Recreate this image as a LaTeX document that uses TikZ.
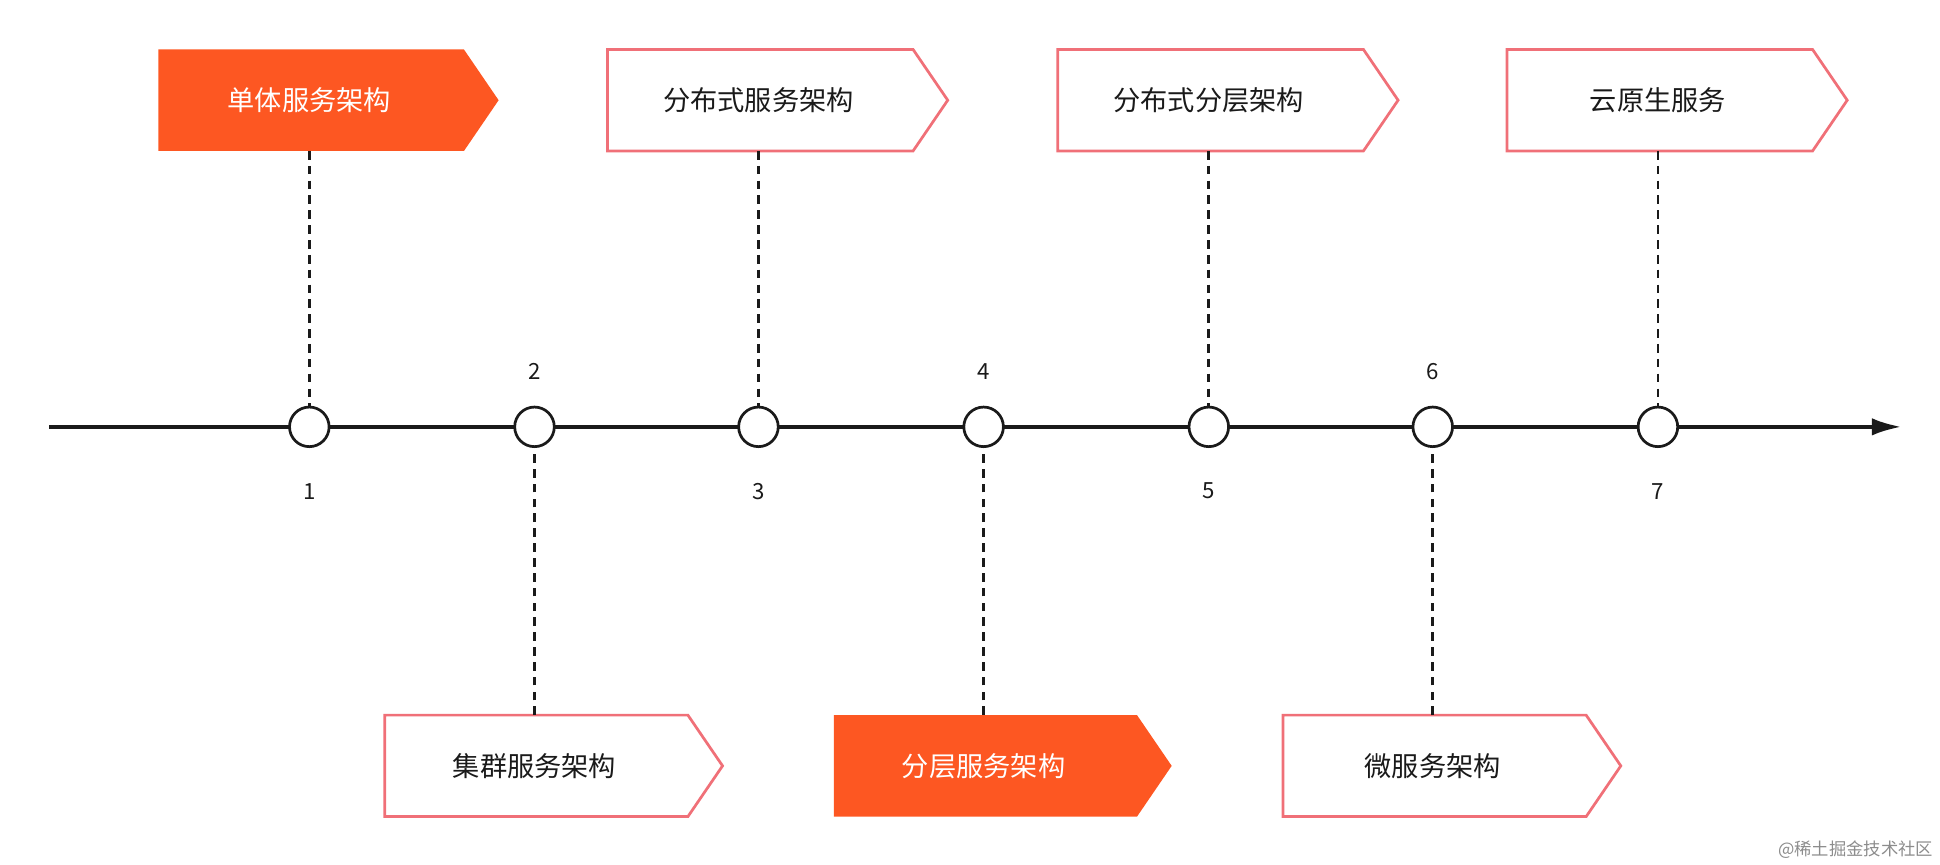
\documentclass[tikz,border=0pt]{standalone}
\usepackage{fontspec}
\setmainfont{Noto Sans CJK SC}
\usetikzlibrary{arrows.meta}
\definecolor{org}{HTML}{FD5722}
\definecolor{pnk}{HTML}{F07078}
\definecolor{ink}{HTML}{1A1A1A}
\begin{document}
\begin{tikzpicture}[x=1pt,y=-1pt,
  dot/.style={circle,draw=ink,line width=2.2pt,fill=white,minimum size=32pt,inner sep=0pt},
  lbl/.style={font=\fontsize{22}{26}\selectfont,text=ink},
  num/.style={font=\fontsize{18}{22}\selectfont,text=ink},
  conn/.style={draw=ink,line width=2.2pt,dash pattern=on 7pt off 5pt},
  hot/.style={fill=org,draw=none},
  cold/.style={fill=white,draw=pnk,line width=2.2pt}]
\useasboundingbox (0,0) rectangle (1568,699);
\coordinate (s) at (40,345);
\coordinate (e) at (1537,345);
\draw[ink,line width=3.2pt,-{Latex[length=24pt,width=14pt]}] (s) -- (e);
\foreach \i/\x in {1/250,2/432,3/613,4/795,5/977,6/1158,7/1340}{
  \node[dot] (c\i) at (\x,345) {};
}
\foreach \i in {1,3,5,7}{\node[num] (n\i) at ([yshift=-52pt]c\i) {\i};}
\foreach \i in {2,4,6}{\node[num] (n\i) at ([yshift=45pt]c\i) {\i};}
% top boxes
\foreach \i/\x/\st/\t in {1/250/hot/单体服务架构,3/613/cold/分布式服务架构,5/977/cold/分布式分层架构,7/1340/cold/云原生服务}{
  \path[\st] (\x-122,40) -- (\x+125,40) -- (\x+153,81) -- (\x+125,122) -- (\x-122,122) -- cycle;
  \coordinate (b\i) at (\x,122);
}
\node[lbl,text=white] (t1) at (250,81) {单体服务架构};
\node[lbl] (t3) at (613,81) {分布式服务架构};
\node[lbl] (t5) at (977,81) {分布式分层架构};
\node[lbl] (t7) at (1340,81) {云原生服务};
% bottom boxes
\foreach \i/\x/\st in {2/432/cold,4/795/hot,6/1158/cold}{
  \path[\st] (\x-121,578) -- (\x+124,578) -- (\x+152,619) -- (\x+124,660) -- (\x-121,660) -- cycle;
  \coordinate (b\i) at (\x,578);
}
\node[lbl] (t2) at (432,619) {集群服务架构};
\node[lbl,text=white] (t4) at (795,619) {分层服务架构};
\node[lbl] (t6) at (1158,619) {微服务架构};
\foreach \i in {1,...,7}{\draw[conn] (b\i) -- (c\i);}
\node[font=\fontsize{14}{16}\selectfont,text=black!45,anchor=south east] (wm) at (1566,697) {@稀土掘金技术社区};
\end{tikzpicture}
\end{document}
